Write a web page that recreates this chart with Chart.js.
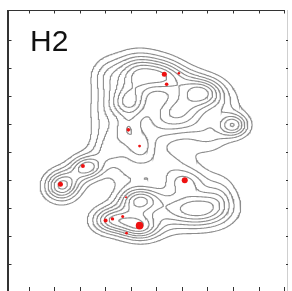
<!DOCTYPE html>
<html>
<head>
<meta charset="utf-8">
<script src="https://cdn.jsdelivr.net/npm/chart.js@4.4.1/dist/chart.umd.min.js"></script>
<style>
  html, body { margin: 0; padding: 0; background: #fff; overflow: hidden; }
  #wrap { position: relative; width: 292px; height: 300px; }
  #label { position: absolute; left: 30px; top: 26px; font: 30px "Liberation Sans", Arial, sans-serif; line-height: 30px; color: #111; }
</style>
</head>
<body>
<div id="wrap">
  <canvas id="contourChart"></canvas>
  <div id="label"></div>
</div>
<script>
// Panel label
const panelLabel = 'H2';

// Tick marks (the picture has no tick labels)
const xTicks = [0, 1, 2, 3, 4, 5, 6, 7, 8, 9, 10];
const yTicks = [0, 1, 2, 3, 4, 5, 6, 7, 8];

// Density bumps
const bumpX       = [4.30, 5.31, 3.06, 4.03, 6.09, 3.91, 2.98, 3.14, 5.85, 6.82, 7.60, 8.02, 7.09, 3.88, 4.38, 4.88, 5.27, 3.84, 3.14, 2.29, 1.28, 1.82, 4.34, 4.38, 3.14, 5.39, 6.59, 6.16, 7.48, 4.11, 3.72];
const bumpY       = [6.82, 6.71, 6.71, 6.25, 6.57, 5.75, 5.43, 4.43, 5.43, 6.14, 5.68, 4.96, 4.61, 4.79, 4.18, 4.79, 3.54, 3.29, 3.96, 3.46, 2.79, 3.07, 2.29, 1.32, 1.57, 1.93, 1.96, 2.93, 2.46, 1.82, 1.50];
const bumpHeight  = [7.6, 5.2, 2.4, 1.6, 2.2, 7.2, 2.4, 2.2, 7.2, 7, 1.8, 6.5, 2.2, 4.2, 3.3, 2, 2.8, 1.8, 2.4, 6.3, 7.2, 1.5, 7.8, 7, 5.5, 2, 8, 4, 2.2, 1.8, 2.2];
const bumpSpreadX = [0.65, 0.53, 0.44, 0.60, 0.53, 0.50, 0.44, 0.44, 0.78, 0.56, 0.53, 0.39, 0.56, 0.39, 0.39, 0.56, 0.85, 0.53, 0.60, 0.44, 0.44, 0.44, 0.56, 0.53, 0.48, 0.53, 0.83, 0.56, 0.44, 0.60, 0.44];
const bumpSpreadY = [0.46, 0.40, 0.44, 0.36, 0.36, 0.39, 0.64, 0.40, 0.56, 0.36, 0.40, 0.28, 0.44, 0.40, 0.36, 0.52, 0.48, 0.40, 0.32, 0.28, 0.36, 0.32, 0.32, 0.32, 0.32, 0.56, 0.44, 0.32, 0.52, 0.32, 0.32];

// Contour levels
const contourLevels = [1.2, 2.4, 3.6, 4.8, 6.0, 7.2, 8.4, 9.6];

// Red points
const pointX    = [5.31, 5.88, 5.40, 3.90, 4.34, 2.12, 1.24, 6.11, 3.81, 3.01, 3.28, 3.68, 4.34, 3.83];
const pointY    = [6.78, 6.81, 6.42, 4.79, 4.21, 3.50, 2.85, 2.99, 2.38, 1.55, 1.61, 1.70, 1.37, 1.10];
const pointSize = [2.5, 1.3, 1.8, 1.8, 1.4, 2, 2.5, 3, 1, 2, 1.7, 1.5, 3.8, 1.4];

const X_MIN = -0.814, X_MAX = 10.155;
const Y_MIN = -1, Y_MAX = 9.07;

document.addEventListener('DOMContentLoaded', function () {
    document.getElementById('label').textContent = panelLabel;
    createContourChart();
});

// Sum of gaussian bumps
function density(x, y) {
    let s = 0;
    for (let k = 0; k < bumpX.length; k++) {
        const dx = (x - bumpX[k]) / bumpSpreadX[k];
        const dy = (y - bumpY[k]) / bumpSpreadY[k];
        s += bumpHeight[k] * Math.exp(-0.5 * (dx * dx + dy * dy));
    }
    return s;
}

// Marching squares for one level, segments joined into polylines
function traceLevel(xs, ys, f, L) {
    const pts = {};
    const adj = {};
    const CASES = {1: [['l', 'b']], 2: [['b', 'r']], 3: [['l', 'r']], 4: [['r', 't']], 6: [['b', 't']],
        7: [['l', 't']], 8: [['l', 't']], 9: [['b', 't']], 11: [['r', 't']], 12: [['l', 'r']],
        13: [['b', 'r']], 14: [['l', 'b']]};

    function edgePoint(i, j, e) {
        let key;
        if (e === 'b' || e === 't') {
            const jj = e === 'b' ? j : j + 1;
            key = 'h' + i + '_' + jj;
            if (!pts[key]) {
                const a = f[jj][i], b = f[jj][i + 1], t = (L - a) / (b - a);
                pts[key] = {x: xs[i] + t * (xs[i + 1] - xs[i]), y: ys[jj]};
            }
        } else {
            const ii = e === 'l' ? i : i + 1;
            key = 'v' + ii + '_' + j;
            if (!pts[key]) {
                const a = f[j][ii], b = f[j + 1][ii], t = (L - a) / (b - a);
                pts[key] = {x: xs[ii], y: ys[j] + t * (ys[j + 1] - ys[j])};
            }
        }
        return key;
    }
    function link(k1, k2) {
        (adj[k1] = adj[k1] || []).push(k2);
        (adj[k2] = adj[k2] || []).push(k1);
    }

    for (let j = 0; j < ys.length - 1; j++) {
        for (let i = 0; i < xs.length - 1; i++) {
            const v0 = f[j][i], v1 = f[j][i + 1], v2 = f[j + 1][i + 1], v3 = f[j + 1][i];
            const code = (v0 > L ? 1 : 0) | (v1 > L ? 2 : 0) | (v2 > L ? 4 : 0) | (v3 > L ? 8 : 0);
            let pairs = CASES[code];
            if (code === 5 || code === 10) {
                const c = (v0 + v1 + v2 + v3) / 4 > L;
                if (code === 5) pairs = c ? [['l', 't'], ['b', 'r']] : [['l', 'b'], ['r', 't']];
                else pairs = c ? [['l', 'b'], ['r', 't']] : [['b', 'r'], ['l', 't']];
            }
            if (!pairs) continue;
            pairs.forEach(([e1, e2]) => link(edgePoint(i, j, e1), edgePoint(i, j, e2)));
        }
    }

    const used = new Set();
    const lines = [];
    for (const start in adj) {
        if (used.has(start)) continue;
        used.add(start);
        const chain = [start];
        let cur = start;
        while (true) {
            const nxt = adj[cur].find(k => !used.has(k));
            if (!nxt) break;
            chain.push(nxt); used.add(nxt); cur = nxt;
        }
        const back = [];
        cur = start;
        while (true) {
            const nxt = adj[cur].find(k => !used.has(k));
            if (!nxt) break;
            back.push(nxt); used.add(nxt); cur = nxt;
        }
        const full = back.reverse().concat(chain);
        if (full.length > 2 && adj[full[full.length - 1]].includes(full[0])) full.push(full[0]);
        lines.push(full.map(k => pts[k]));
    }
    return lines;
}

// Frame and inward ticks on all four sides
const framePlugin = {
    id: 'frame',
    afterDatasetsDraw(chart) {
        const {ctx, chartArea: a, scales: {x, y}} = chart;
        const line = (x1, y1, x2, y2) => { ctx.beginPath(); ctx.moveTo(x1, y1); ctx.lineTo(x2, y2); ctx.stroke(); };
        ctx.save();
        ctx.strokeStyle = '#cfcfcf';
        ctx.lineWidth = 1;
        line(a.right - 0.5, a.top, a.right - 0.5, a.bottom);
        ctx.strokeStyle = '#333';
        ctx.lineWidth = 1.2;
        line(a.left, a.top + 0.5, a.right - 3, a.top + 0.5);
        ctx.lineWidth = 2;
        line(a.left, a.top, a.left, a.bottom);
        ctx.lineWidth = 1;
        xTicks.forEach(v => {
            const px = Math.round(x.getPixelForValue(v)) + 0.5;
            line(px, a.top, px, a.top + 3.5);
            line(px, a.bottom - 5, px, a.bottom - 1);
        });
        yTicks.forEach(v => {
            const py = Math.round(y.getPixelForValue(v)) + 0.5;
            line(a.left, py, a.left + 3.5, py);
            line(a.right - 2, py, a.right, py);
        });
        ctx.restore();
    }
};

function createContourChart() {
    const ctx = document.getElementById('contourChart').getContext('2d');

    const NX = 280, NY = 260;
    const xs = [], ys = [];
    for (let i = 0; i <= NX; i++) xs.push(X_MIN + (X_MAX - X_MIN) * i / NX);
    for (let j = 0; j <= NY; j++) ys.push(Y_MIN + (Y_MAX - Y_MIN) * j / NY);
    const field = ys.map(yv => xs.map(xv => density(xv, yv)));

    const datasets = [{
        data: pointX.map((x, i) => ({x: x, y: pointY[i]})),
        pointRadius: pointSize,
        pointBackgroundColor: '#ee1111',
        pointBorderWidth: 0,
        showLine: false,
        order: 0
    }];
    contourLevels.forEach(L => {
        traceLevel(xs, ys, field, L).forEach(pl => {
            datasets.push({
                data: pl,
                showLine: true,
                pointRadius: 0,
                borderColor: '#8c8c8c',
                borderWidth: 1.1,
                tension: 0,
                order: 1
            });
        });
    });

    new Chart(ctx, {
        type: 'scatter',
        data: {datasets: datasets},
        options: {
            responsive: true,
            maintainAspectRatio: false,
            animation: false,
            layout: {padding: {left: 8, right: 1, top: 10, bottom: 8}},
            plugins: {legend: {display: false}, tooltip: {enabled: false}},
            scales: {
                x: {type: 'linear', display: false, min: X_MIN, max: X_MAX},
                y: {type: 'linear', display: false, min: Y_MIN, max: Y_MAX}
            }
        },
        plugins: [framePlugin]
    });
}
</script>
</body>
</html>
